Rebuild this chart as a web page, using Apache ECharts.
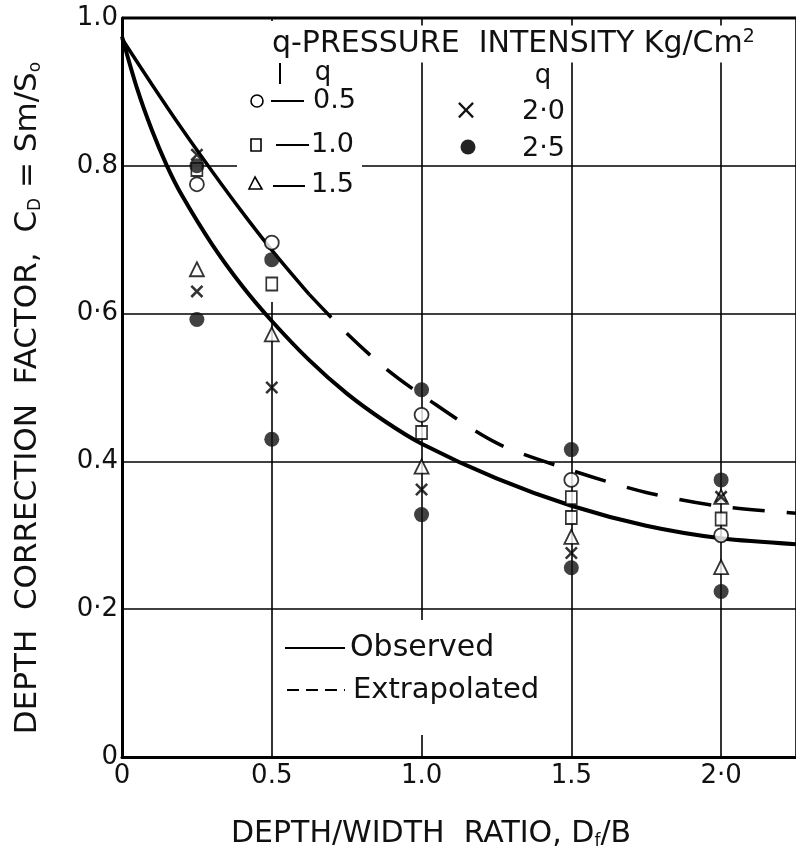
<!DOCTYPE html>
<html><head><meta charset="utf-8">
<script src="https://cdn.jsdelivr.net/npm/echarts@6/dist/echarts.min.js"></script>
<style>html,body{margin:0;padding:0;background:#fff}#c{width:796px;height:858px}</style>
</head><body><div id="c"></div>
<script>
// ---- data ----
const xTickValues = [0, 0.5, 1.0, 1.5, 2.0];
const xTickLabels = ['0', '0.5', '1.0', '1.5', '2·0'];
const yTickValues = [0, 0.2, 0.4, 0.6, 0.8, 1.0];
const yTickLabels = ['0', '0·2', '0.4', '0·6', '0.8', '1.0'];

// q = 0.5 (open circle)
const q05 = [[0.25, 0.775], [0.5, 0.696], [1.0, 0.463], [1.5, 0.375], [2.0, 0.300]];
// q = 1.0 (open square)
const q10 = [[0.25, 0.795], [0.5, 0.640], [1.0, 0.439], [1.5, 0.351], [1.5, 0.324], [2.0, 0.322]];
// q = 1.5 (open triangle)
const q15 = [[0.25, 0.660], [0.5, 0.572], [1.0, 0.393], [1.5, 0.298], [2.0, 0.257], [2.0, 0.352]];
// q = 2.0 (cross)
const q20 = [[0.25, 0.630], [0.25, 0.815], [0.5, 0.500], [1.0, 0.362], [1.5, 0.276], [2.0, 0.352]];
// q = 2.5 (filled circle)
const q25 = [[0.25, 0.592], [0.25, 0.800], [0.5, 0.673], [0.5, 0.430], [1.0, 0.497], [1.0, 0.328],
             [1.5, 0.416], [1.5, 0.256], [2.0, 0.375], [2.0, 0.224]];

// curves
const observedLower = [[0, 0.975], [0.05, 0.905], [0.1, 0.848], [0.15, 0.80], [0.2, 0.76], [0.3, 0.694],
  [0.4, 0.638], [0.5, 0.590], [0.625, 0.537], [0.75, 0.492], [0.875, 0.455], [1.0, 0.424], [1.25, 0.377],
  [1.5, 0.340], [1.75, 0.313], [2.0, 0.296], [2.25, 0.288]];
const observedUpper = [[0, 0.972], [0.1, 0.91], [0.2, 0.85], [0.3, 0.793], [0.4, 0.738], [0.5, 0.686], [0.625, 0.626]];
const extrapolatedUpper = [[0.625, 0.626], [0.75, 0.5735], [0.875, 0.5275], [1.0, 0.49], [1.25, 0.425],
  [1.5, 0.388], [1.75, 0.358], [2.0, 0.339], [2.25, 0.33]];

// ---- chart ----
const FONT = 'DejaVu Sans';
const chart = echarts.init(document.getElementById('c'), null, {renderer: 'canvas'});
const crossPath = 'path://M0,1.4L1.4,0L10,8.6L8.6,10Z M8.6,0L10,1.4L1.4,10L0,8.6Z';
function lab(values, labels) {
  return v => { const i = values.findIndex(t => Math.abs(t - v) < 1e-6); return i < 0 ? '' : labels[i]; };
}
function scatter(name, data, symbol, size, fill) {
  return {name, type: 'scatter', data, symbol, symbolSize: size, z: 5,
    itemStyle: {color: fill, borderColor: '#000', borderWidth: fill === '#fff' ? 1.8 : 0}};
}
const sub = {fontSize: 17, fontFamily: FONT, fill: '#111', verticalAlign: 'bottom', padding: [16, 0, 0, 0]};
const sup = {fontSize: 19, fontFamily: FONT, fill: '#111', verticalAlign: 'top', padding: [0, 0, 14, 0]};
const option = {
  backgroundColor: '#fff',
  animation: false,
  grid: {left: 122, right: 0, top: 18, bottom: 101, show: false},
  xAxis: {type: 'value', min: 0, max: 2.25, interval: 0.5,
    axisLine: {show: true, lineStyle: {color: '#000', width: 3}},
    axisTick: {show: false},
    axisLabel: {formatter: lab(xTickValues, xTickLabels), color: '#111', fontSize: 26, fontFamily: FONT, margin: 6,
      showMaxLabel: false},
    splitLine: {show: true, lineStyle: {color: '#000', width: 1.6}}},
  yAxis: {type: 'value', min: 0, max: 1.0, interval: 0.2,
    axisLine: {show: true, lineStyle: {color: '#000', width: 3}},
    axisTick: {show: false},
    axisLabel: {formatter: lab(yTickValues, yTickLabels), color: '#111', fontSize: 26, fontFamily: FONT, margin: 4},
    splitLine: {show: true, lineStyle: {color: '#000', width: 1.6}}},
  series: [
    {type: 'line', data: observedLower, showSymbol: false, smooth: 0.3, z: 4,
      lineStyle: {color: '#000', width: 4}},
    {type: 'line', data: observedUpper, showSymbol: false, smooth: 0.3, z: 4,
      lineStyle: {color: '#000', width: 3.5}},
    {type: 'line', data: extrapolatedUpper, showSymbol: false, smooth: 0.3, z: 4,
      lineStyle: {color: '#000', width: 3.5, type: [32, 22]}},
    scatter('0.5', q05, 'circle', 14, '#fff'),
    scatter('1.0', q10, 'rect', [11, 13], '#fff'),
    scatter('1.5', q15, 'triangle', 14, '#fff'),
    scatter('2.0', q20, crossPath, 13, '#000'),
    scatter('2.5', q25, 'circle', 15, '#111')
  ],
  graphic: [
    // top border of the frame
    {type: 'line', shape: {x1: 122, y1: 18, x2: 796, y2: 18}, style: {stroke: '#000', lineWidth: 3}, z: 10},
    // blank areas behind the legends
    {type: 'rect', shape: {x: 237, y: 21, width: 125, height: 215}, style: {fill: '#fff'}, z: 1},
    {type: 'rect', shape: {x: 266, y: 230, width: 12, height: 72}, style: {fill: '#fff'}, z: 1},
    {type: 'rect', shape: {x: 282, y: 620, width: 275, height: 115}, style: {fill: '#fff'}, z: 1},
    // pressure legend
    {type: 'text', x: 270, y: 44, z: 20, style: {text: 'q-PRESSURE  INTENSITY Kg/Cm{p|2}', font: '30px ' + FONT,
      fill: '#111', verticalAlign: 'middle', backgroundColor: '#fff', padding: [2, 2], rich: {p: sup}}},
    {type: 'line', shape: {x1: 280, y1: 63, x2: 280, y2: 84}, style: {stroke: '#000', lineWidth: 2}, z: 20},
    {type: 'text', x: 323, y: 73, z: 20, style: {text: 'q', font: '26px ' + FONT, fill: '#111', align: 'center', verticalAlign: 'middle'}},
    {type: 'circle', shape: {cx: 257, cy: 101, r: 6}, style: {fill: '#fff', stroke: '#000', lineWidth: 1.6}, z: 20},
    {type: 'line', shape: {x1: 271, y1: 101, x2: 304, y2: 101}, style: {stroke: '#000', lineWidth: 2}, z: 20},
    {type: 'text', x: 313, y: 101, z: 20, style: {text: '0.5', font: '27px ' + FONT, fill: '#111', verticalAlign: 'middle'}},
    {type: 'rect', shape: {x: 251, y: 139, width: 10, height: 12}, style: {fill: '#fff', stroke: '#000', lineWidth: 1.6}, z: 20},
    {type: 'line', shape: {x1: 276, y1: 145, x2: 309, y2: 145}, style: {stroke: '#000', lineWidth: 2}, z: 20},
    {type: 'text', x: 311, y: 145, z: 20, style: {text: '1.0', font: '27px ' + FONT, fill: '#111', verticalAlign: 'middle'}},
    {type: 'polygon', shape: {points: [[255, 177], [249, 189], [262, 189]]}, style: {fill: '#fff', stroke: '#000', lineWidth: 1.6}, z: 20},
    {type: 'line', shape: {x1: 273, y1: 186, x2: 305, y2: 186}, style: {stroke: '#000', lineWidth: 2}, z: 20},
    {type: 'text', x: 311, y: 185, z: 20, style: {text: '1.5', font: '27px ' + FONT, fill: '#111', verticalAlign: 'middle'}},
    {type: 'text', x: 543, y: 76, z: 20, style: {text: 'q', font: '26px ' + FONT, fill: '#111', align: 'center', verticalAlign: 'middle'}},
    {type: 'text', x: 466, y: 112, z: 20, style: {text: '×', font: '28px ' + FONT, fill: '#111', align: 'center', verticalAlign: 'middle'}},
    {type: 'text', x: 522, y: 112, z: 20, style: {text: '2·0', font: '27px ' + FONT, fill: '#111', verticalAlign: 'middle'}},
    {type: 'circle', shape: {cx: 468, cy: 147, r: 7.5}, style: {fill: '#222'}, z: 20},
    {type: 'text', x: 522, y: 149, z: 20, style: {text: '2·5', font: '27px ' + FONT, fill: '#111', verticalAlign: 'middle'}},
    // line-type legend
    {type: 'line', shape: {x1: 285, y1: 648, x2: 345, y2: 648}, style: {stroke: '#000', lineWidth: 2}, z: 20},
    {type: 'text', x: 350, y: 648, z: 20, style: {text: 'Observed', font: '30px ' + FONT, fill: '#111', verticalAlign: 'middle'}},
    {type: 'line', shape: {x1: 287, y1: 690, x2: 345, y2: 690}, style: {stroke: '#000', lineWidth: 2, lineDash: [12, 7]}, z: 20},
    {type: 'text', x: 353, y: 690, z: 20, style: {text: 'Extrapolated', font: '29px ' + FONT, fill: '#111', verticalAlign: 'middle'}},
    // axis titles
    {type: 'text', x: 431, y: 834, z: 20, style: {text: 'DEPTH/WIDTH  RATIO, D{s|f}/B', font: '30px ' + FONT, fill: '#111',
      align: 'center', verticalAlign: 'middle', rich: {s: sub}}},
    {type: 'text', x: 28, y: 398, rotation: Math.PI / 2, z: 20, style: {text: 'DEPTH  CORRECTION  FACTOR,  C{s|D} = Sm/S{s|o}',
      font: '31px ' + FONT, fill: '#111', align: 'center', verticalAlign: 'middle', rich: {s: sub}}}
  ]
};
chart.setOption(option);
</script>
</body></html>
